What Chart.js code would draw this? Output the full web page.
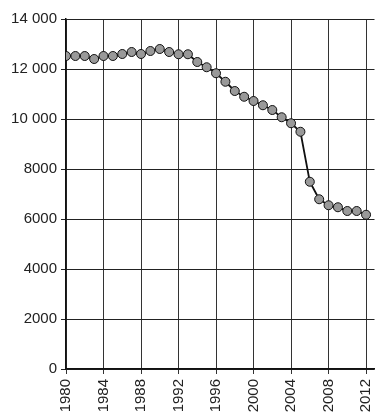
<!DOCTYPE html>
<html>
<head>
<meta charset="utf-8">
<script src="https://cdn.jsdelivr.net/npm/chart.js@4"></script>
<style>
  html, body { margin: 0; padding: 0; background: #fff; }
  canvas { display: block; }
</style>
</head>
<body>
<canvas id="myChart" width="380" height="420"></canvas>
<script>
const years = [1980,1981,1982,1983,1984,1985,1986,1987,1988,1989,1990,1991,1992,1993,1994,1995,1996,
               1997,1998,1999,2000,2001,2002,2003,2004,2005,2006,2007,2008,2009,2010,2011,2012];
const values = [12520,12520,12520,12400,12520,12520,12600,12680,12600,12720,12800,12680,12590,12590,12280,12070,11830,
                11490,11120,10890,10720,10550,10360,10070,9830,9490,7490,6790,6550,6470,6320,6320,6170];
const xTicks = [1980,1984,1988,1992,1996,2000,2004,2008,2012];
const yTicks = [0,2000,4000,6000,8000,10000,12000,14000];

const points = years.map((y, i) => ({x: y, y: values[i]}));

Chart.defaults.font.family = '"Liberation Sans", Arial, sans-serif';
Chart.defaults.font.size = 15;
Chart.defaults.color = '#222';

const ctx = document.getElementById('myChart').getContext('2d');
const myChart = new Chart(ctx, {
    type: 'line',
    data: {
        datasets: [{
            data: points,
            borderColor: '#111',
            borderWidth: 1.8,
            pointRadius: 4.5,
            pointBackgroundColor: '#999',
            pointBorderColor: '#111',
            pointBorderWidth: 1,
            tension: 0
        }]
    },
    options: {
        responsive: false,
        animation: false,
        layout: { padding: { top: 19, right: 5, left: 0, bottom: 0 } },
        plugins: { legend: { display: false }, tooltip: { enabled: false } },
        scales: {
            x: {
                type: 'linear',
                min: 1980,
                max: 2012.9,
                afterBuildTicks: s => { s.ticks = xTicks.map(v => ({value: v})); },
                afterFit: s => { s.height = 51; s.paddingLeft = 0; s.paddingRight = 0; },
                grid: { color: '#333', lineWidth: 1, tickLength: 5 },
                border: { color: '#111', width: 1.5 },
                ticks: {
                    minRotation: 90,
                    maxRotation: 90,
                    padding: 5,
                    callback: v => String(v)
                }
            },
            y: {
                min: 0,
                max: 14000,
                afterBuildTicks: s => { s.ticks = yTicks.map(v => ({value: v})); },
                afterFit: s => { s.width = 66; s.paddingTop = 0; s.paddingBottom = 0; },
                grid: { color: '#222', lineWidth: 1, tickLength: 5 },
                border: { color: '#111', width: 1.5 },
                ticks: {
                    padding: 4,
                    callback: v => v >= 10000 ? String(v).replace(/(\d+)(\d{3})$/, '$1 $2') : String(v)
                }
            }
        }
    }
});
</script>
</body>
</html>
